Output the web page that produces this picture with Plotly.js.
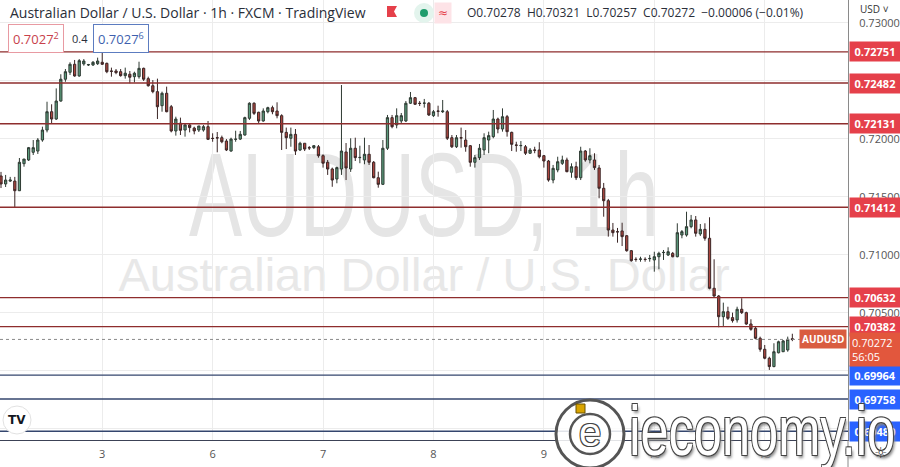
<!DOCTYPE html>
<html><head><meta charset="utf-8">
<script src="https://cdn.plot.ly/plotly-3.0.1.min.js"></script>
<style>html,body{margin:0;padding:0;background:#fff}#chart{width:900px;height:467px}</style>
</head><body><div id="chart"></div>
<script>
// ---- data (AUD/USD, 1h, FXCM) ----
const openP = [0.71681,0.71612,0.71637,0.71637,0.71554,0.71787,0.71819,0.71885,0.71896,0.71991,
0.72077,0.72235,0.72172,0.72327,0.72515,0.72575,0.72644,0.72543,0.72647,0.72638,
0.72638,0.72649,0.72661,0.72652,0.72586,0.72586,0.72580,0.72546,0.72558,0.72537,
0.72537,0.72609,0.72520,0.72459,0.72408,0.72287,0.72394,0.72278,0.72069,0.72136,
0.72077,0.72121,0.72094,0.72077,0.72077,0.72106,0.72006,0.72011,0.72011,0.71982,
0.71896,0.71997,0.71999,0.72034,0.72178,0.72308,0.72230,0.72155,0.72235,0.72270,
0.72241,0.72201,0.72057,0.72006,0.72040,0.71905,0.71963,0.71925,0.71925,0.71933,
0.71856,0.71799,0.71741,0.71655,0.71741,0.71888,0.71741,0.71920,0.71839,0.71819,
0.71868,0.71799,0.71666,0.71609,0.71920,0.72184,0.72121,0.72155,0.72155,0.72308,
0.72356,0.72308,0.72308,0.72308,0.72201,0.72241,0.72235,0.72235,0.72011,0.71933,
0.72011,0.71991,0.71942,0.71799,0.71839,0.71905,0.71991,0.72020,0.72172,0.72086,
0.72192,0.72057,0.71948,0.71942,0.71933,0.71877,0.71905,0.71905,0.71856,0.71810,
0.71646,0.71733,0.71790,0.71819,0.71713,0.71761,0.71666,0.71896,0.71819,0.71819,
0.71750,0.71575,0.71468,0.71215,0.71201,0.71207,0.71166,0.71037,0.70963,0.70963,
0.70963,0.70968,0.70957,0.70985,0.71020,0.71000,0.71014,0.70985,0.71172,0.71172,
0.71244,0.71302,0.71181,0.71221,0.71144,0.70713,0.70646,0.70468,0.70511,0.70460,
0.70440,0.70532,0.70503,0.70405,0.70368,0.70282,0.70187,0.70110,0.70038,0.70157,
0.70166,0.70181,0.70278];
const highP = [0.71716,0.71690,0.71673,0.71673,0.71836,0.71827,0.71931,0.71991,0.72008,0.72106,
0.72321,0.72299,0.72436,0.72558,0.72603,0.72661,0.72681,0.72689,0.72689,0.72647,
0.72672,0.72701,0.72758,0.72658,0.72615,0.72603,0.72603,0.72615,0.72586,0.72580,
0.72666,0.72615,0.72537,0.72508,0.72520,0.72408,0.72451,0.72293,0.72192,0.72184,
0.72136,0.72129,0.72106,0.72112,0.72121,0.72155,0.72049,0.72060,0.72029,0.71999,
0.72011,0.72071,0.72069,0.72192,0.72316,0.72316,0.72235,0.72264,0.72278,0.72287,
0.72316,0.72213,0.72098,0.72098,0.72086,0.71976,0.71963,0.71939,0.71948,0.71948,
0.71868,0.71819,0.71753,0.71761,0.72465,0.71965,0.72006,0.72011,0.71942,0.72011,
0.71948,0.71810,0.71718,0.71991,0.72207,0.72207,0.72264,0.72224,0.72327,0.72405,
0.72362,0.72327,0.72345,0.72319,0.72250,0.72287,0.72336,0.72250,0.72034,0.72034,
0.72098,0.72077,0.71948,0.71862,0.71957,0.72049,0.72063,0.72250,0.72184,0.72264,
0.72207,0.72063,0.71976,0.71982,0.71948,0.71922,0.71933,0.71972,0.71862,0.71819,
0.71776,0.71847,0.71856,0.71839,0.71790,0.71804,0.71933,0.71905,0.71920,0.71877,
0.71776,0.71621,0.71483,0.71276,0.71233,0.71278,0.71172,0.71043,0.70980,0.70985,
0.70980,0.71000,0.71028,0.71028,0.71043,0.71066,0.71026,0.71273,0.71215,0.71373,
0.71345,0.71336,0.71267,0.71273,0.71325,0.70963,0.70655,0.70589,0.70554,0.70503,
0.70554,0.70627,0.70511,0.70446,0.70382,0.70296,0.70224,0.70123,0.70239,0.70261,
0.70267,0.70296,0.70321];
const lowP = [0.71577,0.71586,0.71629,0.71405,0.71551,0.71761,0.71810,0.71862,0.71871,0.71976,
0.72057,0.72136,0.72164,0.72321,0.72493,0.72552,0.72537,0.72537,0.72632,0.72629,
0.72629,0.72638,0.72638,0.72567,0.72537,0.72558,0.72537,0.72520,0.72480,0.72488,
0.72520,0.72500,0.72451,0.72394,0.72172,0.72235,0.72230,0.72057,0.72029,0.72034,
0.72020,0.72057,0.72040,0.72060,0.72063,0.71991,0.71976,0.71885,0.71963,0.71896,
0.71890,0.71976,0.71991,0.72029,0.72164,0.72207,0.72136,0.72149,0.72221,0.72213,
0.72178,0.71905,0.71913,0.71933,0.71862,0.71896,0.71896,0.71905,0.71913,0.71839,
0.71753,0.71690,0.71588,0.71618,0.71690,0.71646,0.71716,0.71810,0.71791,0.71782,
0.71776,0.71661,0.71580,0.71603,0.71905,0.72092,0.72092,0.72129,0.72146,0.72302,
0.72293,0.72284,0.72270,0.72198,0.72190,0.72192,0.72224,0.71991,0.71922,0.71922,
0.71925,0.71890,0.71761,0.71753,0.71819,0.71862,0.71877,0.72006,0.72049,0.72063,
0.72020,0.71896,0.71890,0.71896,0.71862,0.71871,0.71877,0.71833,0.71753,0.71632,
0.71618,0.71713,0.71776,0.71713,0.71666,0.71646,0.71646,0.71804,0.71790,0.71733,
0.71489,0.71330,0.71158,0.71158,0.71106,0.71077,0.71028,0.70942,0.70942,0.70942,
0.70942,0.70942,0.70856,0.70877,0.70957,0.70991,0.70980,0.70980,0.71144,0.71158,
0.71230,0.71158,0.71164,0.71123,0.70704,0.70640,0.70377,0.70388,0.70440,0.70417,
0.70417,0.70491,0.70397,0.70347,0.70273,0.70166,0.70101,0.70009,0.70032,0.70152,
0.70164,0.70166,0.70257];
const closeP = [0.71612,0.71646,0.71646,0.71554,0.71799,0.71827,0.71925,0.71925,0.71991,0.72077,
0.72235,0.72172,0.72327,0.72515,0.72580,0.72644,0.72543,0.72675,0.72672,0.72641,
0.72661,0.72672,0.72644,0.72580,0.72583,0.72572,0.72546,0.72567,0.72532,0.72567,
0.72609,0.72515,0.72459,0.72408,0.72278,0.72394,0.72235,0.72069,0.72172,0.72075,
0.72121,0.72098,0.72069,0.72112,0.72106,0.71997,0.72004,0.72009,0.71976,0.71905,
0.71999,0.71998,0.72040,0.72184,0.72308,0.72221,0.72155,0.72241,0.72270,0.72235,
0.72201,0.72057,0.72011,0.72040,0.71896,0.71963,0.71913,0.71923,0.71942,0.71856,
0.71791,0.71741,0.71646,0.71753,0.71896,0.71750,0.71920,0.71839,0.71841,0.71868,
0.71799,0.71666,0.71609,0.71920,0.72184,0.72106,0.72201,0.72201,0.72308,0.72356,
0.72299,0.72306,0.72309,0.72207,0.72235,0.72239,0.72241,0.72006,0.71933,0.72011,
0.72009,0.71933,0.71799,0.71839,0.71920,0.72011,0.72029,0.72172,0.72086,0.72192,
0.72063,0.71954,0.71946,0.71944,0.71877,0.71905,0.71903,0.71847,0.71810,0.71646,
0.71747,0.71804,0.71819,0.71718,0.71761,0.71666,0.71896,0.71819,0.71856,0.71753,
0.71575,0.71468,0.71215,0.71192,0.71199,0.71158,0.71037,0.70951,0.70961,0.70965,
0.70961,0.70970,0.70985,0.71014,0.71022,0.71028,0.70985,0.71192,0.71201,0.71244,
0.71302,0.71187,0.71221,0.71144,0.70713,0.70646,0.70468,0.70511,0.70454,0.70434,
0.70532,0.70503,0.70405,0.70359,0.70282,0.70187,0.70110,0.70038,0.70166,0.70252,
0.70259,0.70273,0.70272];
const dayLabels = ['3','6','7','8','9','10','13'];
const dayStartBar = [22,46,70,94,118,142,166];
const resistanceLevels = [0.72751,0.72482,0.72131,0.71412,0.70632,0.70382];
const supportLevels = [0.69964,0.69758,0.69480];
const priceTicks = [0.695,0.700,0.705,0.710,0.715,0.720,0.725,0.730];
const lastPrice = 0.70272;
const countdown = '56:05';
const headerTitle = 'Australian Dollar / U.S. Dollar · 1h · FXCM · TradingView';
const headerOHLC = 'O0.70278  H0.70321  L0.70257  C0.70272  −0.00006 (−0.01%)';

// ---- layout helpers (pixel -> paper) ----
const PW = 848, PH = 440;
const X = p => p / PW;
const Y = p => 1 - p / PH;

const bars = openP.map((_, i) => i);

const trace = {
  type: 'candlestick', x: bars, open: openP, high: highP, low: lowP, close: closeP,
  increasing: {line: {color: '#2f3a33', width: 1}, fillcolor: '#5a9a7b'},
  decreasing: {line: {color: '#3b2626', width: 1}, fillcolor: '#ad463f'},
  whiskerwidth: 0, hoverinfo: 'skip', showlegend: false
};

const shapes = [];
// watermarks (below the candles)
shapes.push({type: 'rect', xref: 'paper', yref: 'paper', x0: 0, x1: 1, y0: Y(240), y1: Y(128),
  line: {width: 0}, fillcolor: 'rgba(0,0,0,0)', layer: 'below',
  label: {text: 'AUDUSD, 1h', textposition: 'middle center',
    font: {family: 'Liberation Sans, Arial, sans-serif', size: 118, color: '#e5e5e5'}}});
shapes.push({type: 'rect', xref: 'paper', yref: 'paper', x0: 0, x1: 1, y0: Y(292), y1: Y(248),
  line: {width: 0}, fillcolor: 'rgba(0,0,0,0)', layer: 'below',
  label: {text: 'Australian Dollar / U.S. Dollar', textposition: 'middle center',
    font: {family: 'Liberation Sans, Arial, sans-serif', size: 47, color: '#e8e8e8'}}});
resistanceLevels.forEach(v => shapes.push({type: 'line', xref: 'paper', yref: 'y', x0: 0, x1: 1, y0: v, y1: v,
  line: {color: '#8e2d2d', width: 1.4}}));
supportLevels.forEach(v => shapes.push({type: 'line', xref: 'paper', yref: 'y', x0: 0, x1: 1, y0: v, y1: v,
  line: {color: '#34466e', width: 1.4}}));
shapes.push({type: 'line', xref: 'paper', yref: 'y', x0: 0, x1: X(800), y0: lastPrice, y1: lastPrice,
  line: {color: '#8a8a8a', width: 1, dash: 'dot'}});
// right-scale border down to the bottom
shapes.push({type: 'line', xref: 'paper', yref: 'paper', x0: 1, x1: 1, y0: Y(440), y1: Y(467),
  line: {color: '#8a8a8a', width: 1}});
// header icons
shapes.push({type: 'path', xref: 'paper', yref: 'paper',
  path: `M ${X(387)} ${Y(6)} L ${X(397)} ${Y(6)} L ${X(394)} ${Y(11.5)} L ${X(397)} ${Y(17)} L ${X(387)} ${Y(17)} Z`,
  fillcolor: '#e5404a', line: {width: 0}});
shapes.push({type: 'circle', xref: 'paper', yref: 'paper', x0: X(414), x1: X(434), y0: Y(23), y1: Y(3),
  fillcolor: '#e3f4ed', line: {width: 0}});
shapes.push({type: 'circle', xref: 'paper', yref: 'paper', x0: X(420), x1: X(428), y0: Y(17), y1: Y(9),
  fillcolor: '#1e9c6c', line: {width: 0}});
// TradingView logo disc
shapes.push({type: 'circle', xref: 'paper', yref: 'paper', x0: X(3), x1: X(31), y0: Y(434), y1: Y(406),
  fillcolor: '#ffffff', line: {color: '#e2e2e2', width: 1}});
// ieconomy emblem
shapes.push({type: 'circle', xref: 'paper', yref: 'paper', x0: X(556), x1: X(624), y0: Y(468), y1: Y(400),
  fillcolor: 'rgba(255,255,255,0.85)', line: {color: '#555', width: 3}});
shapes.push({type: 'circle', xref: 'paper', yref: 'paper', x0: X(570), x1: X(610), y0: Y(454), y1: Y(414),
  fillcolor: '#ffffff', line: {color: '#555', width: 2.5}});
shapes.push({type: 'rect', xref: 'paper', yref: 'paper', x0: X(576), x1: X(585), y0: Y(413), y1: Y(404),
  fillcolor: '#d9a400', line: {color: '#6b5200', width: 1}});

const annotations = [];
const A = (o) => annotations.push(Object.assign({showarrow: false, xref: 'paper', yref: 'paper'}, o));
// header
A({x: X(8), y: Y(13), xanchor: 'left', yanchor: 'middle', text: headerTitle,
  font: {family: 'Open Sans, sans-serif', size: 14, color: '#2a2e39'}});
A({x: X(443), y: Y(13), xanchor: 'center', yanchor: 'middle', text: '≈', bgcolor: '#fde3e7', borderpad: 3,
  font: {family: 'DejaVu Sans, sans-serif', size: 12, color: '#e5404a'}});
A({x: X(465), y: Y(13), xanchor: 'left', yanchor: 'middle', text: headerOHLC,
  font: {family: 'Open Sans, sans-serif', size: 12, color: '#2a2e39'}});
A({x: X(8), y: Y(38.5), xanchor: 'left', yanchor: 'middle', text: '0.7027<sup>2</sup>',
  bgcolor: '#ffffff', bordercolor: '#e89aa2', borderwidth: 1, borderpad: 4,
  font: {family: 'Open Sans, sans-serif', size: 13, color: '#c8414b'}});
A({x: X(70), y: Y(38.5), xanchor: 'left', yanchor: 'middle', text: '0.4',
  font: {family: 'Open Sans, sans-serif', size: 11, color: '#2a2e39'}});
A({x: X(93), y: Y(38.5), xanchor: 'left', yanchor: 'middle', text: '0.7027<sup>6</sup>',
  bgcolor: '#ffffff', bordercolor: '#5c7cc0', borderwidth: 1, borderpad: 4,
  font: {family: 'Open Sans, sans-serif', size: 13, color: '#3e5fae'}});
A({x: X(858), y: Y(9), xanchor: 'left', yanchor: 'middle', text: 'USD ˅',
  font: {family: 'Open Sans, sans-serif', size: 10, color: '#333'}});
// level labels on the price scale
resistanceLevels.forEach(v => A({x: 1, xshift: 1, yref: 'y', y: v, xanchor: 'left', yanchor: 'middle',
  text: '<b>' + v.toFixed(5) + '</b>', bgcolor: '#e5404a', borderpad: 2, width: 46,
  font: {family: 'Open Sans, sans-serif', size: 11, color: '#ffffff'}}));
supportLevels.forEach(v => A({x: 1, xshift: 1, yref: 'y', y: v, xanchor: 'left', yanchor: 'middle',
  text: '<b>' + v.toFixed(5) + '</b>', bgcolor: '#2962ff', borderpad: 2, width: 46,
  font: {family: 'Open Sans, sans-serif', size: 11, color: '#ffffff'}}));
A({x: 1, xshift: 1, yref: 'y', y: lastPrice, xanchor: 'left', yanchor: 'top', yshift: 7,
  text: lastPrice.toFixed(5) + '<br>' + countdown, bgcolor: '#e2573d', borderpad: 2, width: 46, align: 'left',
  font: {family: 'Open Sans, sans-serif', size: 11, color: '#ffffff'}});
A({x: X(823), yref: 'y', y: lastPrice, xanchor: 'center', yanchor: 'middle',
  text: '<b>AUDUSD</b>', bgcolor: '#d95c40', borderpad: 2,
  font: {family: 'Open Sans, sans-serif', size: 10, color: '#ffffff'}});
// logos
A({x: X(17), y: Y(420), xanchor: 'center', yanchor: 'middle', text: '<b>TV</b>',
  font: {family: 'DejaVu Sans, sans-serif', size: 12, color: '#131722'}});
A({x: X(590), y: Y(432), xanchor: 'center', yanchor: 'middle', text: 'e',
  font: {family: 'Liberation Sans, sans-serif', size: 40, color: '#ffffff',
    shadow: '-1px -1px 0 #444, 1px -1px 0 #444, -1px 1px 0 #444, 1px 1px 0 #444'}});
A({x: X(762), y: Y(431), xanchor: 'center', yanchor: 'middle', text: 'ieconomy.io',
  font: {family: 'Liberation Sans, sans-serif', size: 70, color: '#ffffff',
    shadow: '-1px -1px 0 #444, 1px -1px 0 #444, -1px 1px 0 #444, 1px 1px 0 #444, 2px 3px 3px #888'}});
A({x: X(880), y: Y(453), xanchor: 'center', yanchor: 'middle', text: '☼',
  font: {family: 'DejaVu Sans, sans-serif', size: 15, color: '#333'}});

const layout = {
  width: 900, height: 467,
  margin: {l: 0, r: 52, t: 0, b: 27, pad: 0},
  paper_bgcolor: '#ffffff', plot_bgcolor: 'rgba(0,0,0,0)',
  showlegend: false, dragmode: false,
  xaxis: {
    range: [-0.22, 184.1], rangeslider: {visible: false},
    tickmode: 'array', tickvals: dayStartBar, ticktext: dayLabels,
    showgrid: true, gridcolor: '#ececec', gridwidth: 1, zeroline: false,
    showline: true, linecolor: '#3c4256', linewidth: 1, mirror: false,
    ticks: '', ticklabelstandoff: 4,
    tickfont: {family: 'Open Sans, sans-serif', size: 11, color: '#555'}
  },
  yaxis: {
    side: 'right', range: [0.69405, 0.73198],
    tickmode: 'array', tickvals: priceTicks, ticktext: priceTicks.map(v => v.toFixed(5)),
    showgrid: true, gridcolor: '#ececec', gridwidth: 1, zeroline: false,
    showline: true, linecolor: '#8a8a8a', linewidth: 1,
    ticks: '', ticklabelstandoff: 8,
    tickfont: {family: 'Open Sans, sans-serif', size: 11, color: '#555'}
  },
  shapes: shapes, annotations: annotations
};

const condensed = {'AUDUSD, 1h': 470, 'ieconomy.io': 266};
Plotly.newPlot('chart', [trace], layout, {staticPlot: true, displayModeBar: false}).then(gd => {
  gd.querySelectorAll('text').forEach(t => {
    const target = condensed[t.textContent];
    if (!target) return;
    const bb = t.getBBox();
    const cx = bb.x + bb.width / 2;
    const s = target / bb.width;
    const prev = t.getAttribute('transform') || '';
    t.setAttribute('transform', `translate(${cx} 0) scale(${s} 1) translate(${-cx} 0) ${prev}`);
  });
});
</script>
</body></html>
